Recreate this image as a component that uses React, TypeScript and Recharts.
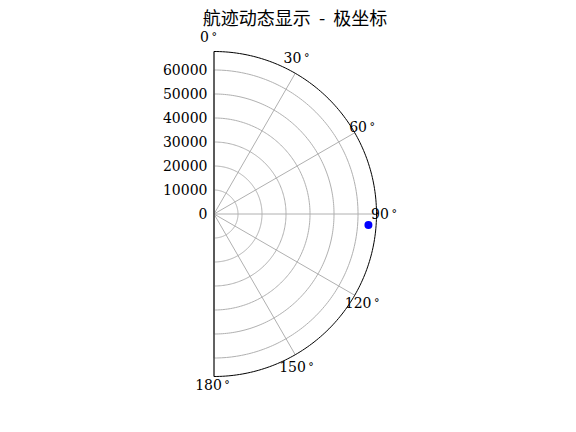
import { RadarChart, PolarGrid, PolarAngleAxis, PolarRadiusAxis, Radar } from 'recharts';

const title = '航迹动态显示  -  极坐标';
const thetaTicks = [0, 30, 60, 90, 120, 150, 180];
const radiusTicks = [0, 10000, 20000, 30000, 40000, 50000, 60000];
const radiusMax = 67700;
const trackTheta = [94.1];
const trackRange = [64500];

const data = trackTheta.map((theta, i) => ({ theta, r: trackRange[i] }));

const CX = 214;
const CY = 214;
const OUTER = 162.5;
const START = 90;
const END = -90;
// 1-degree steps so the grid polygons look like arcs; their closing edge sits on the left spine
const arcAngles = Array.from({ length: START - END + 1 }, (_, i) => START - i);

// small per-label nudges, matplotlib aligns the theta labels a bit unevenly
const labelNudge: Record<number, [number, number]> = {
  0: [-5.5, -6],
  30: [-3, -8],
  60: [0, -1.5],
  90: [-1, 0],
  120: [0, 3],
  150: [-3, 4.5],
  180: [-1.5, 0],
};

const serif = "'DejaVu Serif', serif";

const RadiusTick = (props: any) => (
  <text
    x={props.x - 6.5}
    y={props.y}
    textAnchor="end"
    dominantBaseline="central"
    fontFamily={serif}
    fontSize={14}
    fill="#000"
  >
    {props.payload.value}
  </text>
);

const AngleTick = (props: any) => {
  const [dx, dy] = labelNudge[props.payload.value] || [0, 0];
  return (
    <text
      x={props.x + dx}
      y={props.y + dy}
      textAnchor="middle"
      dominantBaseline="central"
      fontFamily={serif}
      fontSize={14}
      fill="#000"
    >
      {props.payload.value}
      <tspan dx={2.5} fontSize={11}>°</tspan>
    </text>
  );
};

const TrackDot = (props: any) => (
  <circle key={`dot-${props.index}`} cx={props.cx} cy={props.cy} r={4} fill="#0000ff" />
);

export default function App() {
  return (
    <div style={{ position: 'absolute', left: 0, top: 0, width: 576, height: 432, background: '#fff' }}>
      <div
        style={{
          position: 'absolute',
          left: 0,
          width: 590,
          top: 7,
          lineHeight: '20px',
          textAlign: 'center',
          whiteSpace: 'pre',
          fontFamily: "'Noto Sans CJK SC', sans-serif",
          fontSize: 18,
          color: '#000',
        }}
      >
        {title}
      </div>
      <RadarChart
        width={576}
        height={432}
        data={data}
        cx={CX}
        cy={CY}
        innerRadius={0}
        outerRadius={OUTER}
        startAngle={START}
        endAngle={END}
        margin={{ top: 0, right: 0, bottom: 0, left: 0 }}
      >
        <PolarGrid gridType="polygon" polarAngles={arcAngles} radialLines={false} stroke="#b0b0b0" strokeWidth={1} />
        <PolarGrid polarRadius={[]} stroke="#b0b0b0" strokeWidth={1} />
        <PolarGrid
          gridType="polygon"
          polarAngles={arcAngles}
          polarRadius={[OUTER]}
          radialLines={false}
          stroke="#000"
          strokeWidth={1}
        />
        <PolarAngleAxis
          dataKey="theta"
          type="number"
          domain={[0, 180]}
          ticks={thetaTicks}
          tickCount={7}
          axisLine={false}
          tickLine={false}
          tickSize={8.5}
          tick={AngleTick}
        />
        <PolarRadiusAxis
          angle={90}
          type="number"
          domain={[0, radiusMax]}
          ticks={radiusTicks}
          axisLine={false}
          tick={RadiusTick}
        />
        <Radar dataKey="r" stroke="none" fill="none" dot={TrackDot} isAnimationActive={false} />
      </RadarChart>
    </div>
  );
}
